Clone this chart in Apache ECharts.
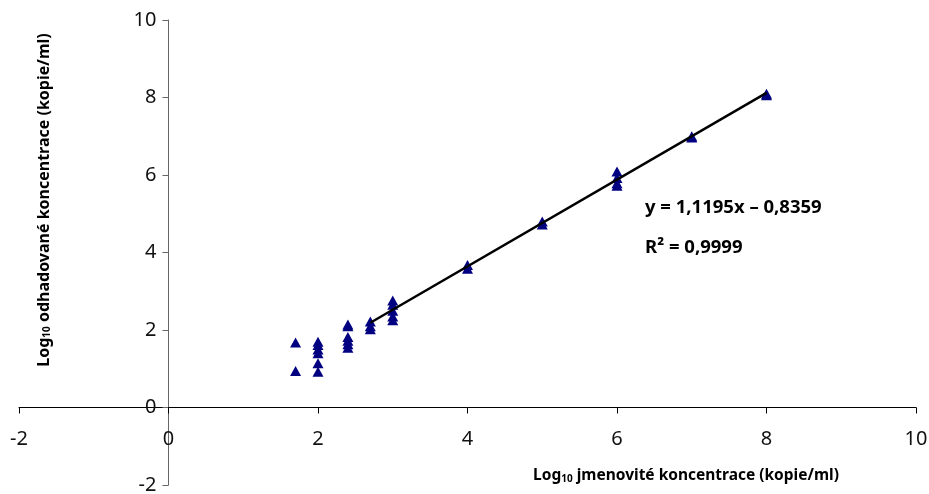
<!DOCTYPE html>
<html>
<head>
<meta charset="utf-8">
<script src="https://cdn.jsdelivr.net/npm/echarts@6/dist/echarts.min.js"></script>
<style>
  html, body { margin: 0; padding: 0; background: #fff; }
  #chart { width: 929px; height: 494px; }
</style>
</head>
<body>
<div id="chart"></div>
<script>
// nominal log10 concentrations (x) and replicate estimates (y)
var levels = [1.7, 2, 2.4, 2.7, 3, 4, 5, 6, 7, 8];
var est_1_7 = [1.68, 0.94];
var est_2 = [1.70, 1.61, 1.50, 1.40, 1.14, 0.92];
var est_2_4 = [2.14, 2.10, 1.82, 1.72, 1.63, 1.54];
var est_2_7 = [2.22, 2.10, 2.02];
var est_3 = [2.76, 2.65, 2.50, 2.35, 2.25];
var est_4 = [3.68, 3.58];
var est_5 = [4.80, 4.72];
var est_6 = [6.09, 5.92, 5.79, 5.72];
var est_7 = [7.00, 6.97];
var est_8 = [8.10, 8.06];
var estimates = [est_1_7, est_2, est_2_4, est_2_7, est_3, est_4, est_5, est_6, est_7, est_8];

// regression line
var slope = 1.1195;
var intercept = -0.8359;
var fitRange = [2.7, 8];

var axisMin = -2;
var axisMax = 10;

var points = [];
levels.forEach(function (x, i) {
  estimates[i].forEach(function (y) {
    points.push([x, y]);
  });
});
var fitLine = fitRange.map(function (x) {
  return [x, slope * x + intercept];
});

var myChart = echarts.init(document.getElementById("chart"));

var labelFont = "'Noto Sans', sans-serif";
var gridL = 19, gridR = 13, gridT = 20, gridB = 9;
var W = 929, H = 494;
// axes cross at zero: shift each axis from the grid edge to the zero line
var xZeroOffset = (W - gridL - gridR) * (0 - axisMin) / (axisMax - axisMin);
var yZeroOffset = (H - gridT - gridB) * (0 - axisMin) / (axisMax - axisMin);

var option = {
  backgroundColor: "#fff",
  animation: false,
  grid: {
    left: gridL,
    right: gridR,
    top: gridT,
    bottom: gridB,
    containLabel: false,
    outerBoundsMode: "none"
  },
  xAxis: {
    type: "value",
    position: "bottom",
    offset: -yZeroOffset,
    min: axisMin,
    max: axisMax,
    interval: 2,
    splitLine: { show: false },
    axisLine: { onZero: false, lineStyle: { color: "#000", width: 1 } },
    axisTick: { length: 6, lineStyle: { color: "#000" } },
    axisLabel: {
      margin: 22,
      fontSize: 20,
      color: "#111",
      fontFamily: labelFont,
      showMinLabel: true,
      showMaxLabel: true
    }
  },
  yAxis: {
    type: "value",
    position: "left",
    offset: -xZeroOffset,
    min: axisMin,
    max: axisMax,
    interval: 2,
    splitLine: { show: false },
    axisLine: { onZero: false, lineStyle: { color: "#666", width: 1 } },
    axisTick: { length: 6, lineStyle: { color: "#666" } },
    axisLabel: {
      margin: 12,
      fontSize: 20,
      color: "#111",
      fontFamily: labelFont,
      showMinLabel: true,
      showMaxLabel: true
    }
  },
  graphic: [
    {
      type: "text",
      x: 42,
      y: 200,
      rotation: Math.PI / 2,
      style: {
        text: "{m|Log}{s|10}{m| odhadované koncentrace (kopie/ml)}",
        align: "center",
        verticalAlign: "middle",
        rich: {
          m: { fontSize: 16, fontWeight: "bold", fontFamily: labelFont, fill: "#000", lineHeight: 20, verticalAlign: "bottom" },
          s: { fontSize: 10, fontWeight: "bold", fontFamily: labelFont, fill: "#000", lineHeight: 14, verticalAlign: "bottom" }
        }
      }
    },
    {
      type: "text",
      x: 686,
      y: 474,
      style: {
        text: "{m|Log}{s|10}{m| jmenovité koncentrace (kopie/ml)}",
        align: "center",
        verticalAlign: "middle",
        rich: {
          m: { fontSize: 15.5, fontWeight: "bold", fontFamily: labelFont, fill: "#000", lineHeight: 20, verticalAlign: "bottom" },
          s: { fontSize: 10, fontWeight: "bold", fontFamily: labelFont, fill: "#000", lineHeight: 14, verticalAlign: "bottom" }
        }
      }
    },
    {
      type: "text",
      x: 645,
      y: 208,
      style: {
        text: "y = 1,1195x \u2013 0,8359",
        fontSize: 18.5,
        fontWeight: "bold",
        fontFamily: labelFont,
        fill: "#000",
        verticalAlign: "middle"
      }
    },
    {
      type: "text",
      x: 645,
      y: 248,
      style: {
        text: "R\u00b2 = 0,9999",
        fontSize: 18.5,
        fontWeight: "bold",
        fontFamily: labelFont,
        fill: "#000",
        verticalAlign: "middle"
      }
    }
  ],
  series: [
    {
      name: "fit",
      type: "line",
      data: fitLine,
      showSymbol: false,
      lineStyle: { color: "#000", width: 2.5 },
      z: 3
    },
    {
      name: "data",
      type: "scatter",
      data: points,
      symbol: "triangle",
      symbolSize: [11, 10],
      itemStyle: { color: "#000080", opacity: 1 },
      z: 2
    }
  ]
};

myChart.setOption(option);
</script>
</body>
</html>
